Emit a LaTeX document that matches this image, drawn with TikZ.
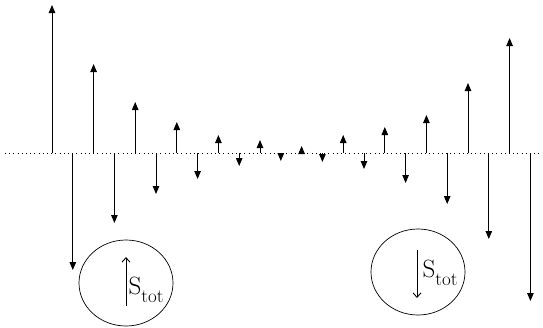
\documentclass[tikz,border=0pt]{standalone}
\usetikzlibrary{arrows.meta,shapes.geometric}
\begin{document}
\begin{tikzpicture}[x=1pt,y=-1pt,
  spin/.style={line width=0.9pt,-{Triangle[length=8pt,width=6.5pt]}},
  baseline dots/.style={line width=0.6pt,dash pattern=on 1pt off 3.2pt},
  tot circle/.style={draw,ellipse,line width=0.7pt,minimum width=94pt,minimum height=86pt,inner sep=0pt},
  tot arrow/.style={line width=0.9pt,-{Straight Barb[length=4.5pt,width=8pt]}},
  tot label/.style={inner sep=0pt,anchor=base west}]
\useasboundingbox (0,0) rectangle (543,327);
\coordinate (dl) at (5,153);
\coordinate (dr) at (543,153);
\draw[baseline dots] (dl) -- (dr);
\foreach \k/\tip in {0/5,1/270,2/64,3/223,4/102,5/194,6/122,7/179,8/135,9/166,10/140,11/161,12/146,13/162,14/135,15/169,16/127,17/183,18/115,19/204,20/83,21/239,22/38,23/301}{
  \pgfmathsetmacro\xx{52+20.8*\k}
  \coordinate (b\k) at (\xx,153);
  \coordinate (t\k) at (\xx,\tip);
  \draw[spin] (b\k) -- (t\k);
}
\node[tot circle] (L) at (126,283) {};
\node[tot circle] (R) at (418,272) {};
\coordinate (La) at (126,306);
\coordinate (Lb) at (126,257);
\coordinate (Ra) at (417,250);
\coordinate (Rb) at (417,298);
\draw[tot arrow] (La) -- (Lb);
\draw[tot arrow] (Ra) -- (Rb);
\node[tot label] (LS) at (128.5,294.7) {\fontsize{25}{25}\selectfont S\raisebox{-8pt}{\fontsize{19}{19}\selectfont tot}};
\node[tot label] (RS) at (422.5,277) {\fontsize{25}{25}\selectfont S\raisebox{-8pt}{\fontsize{19}{19}\selectfont tot}};
\end{tikzpicture}
\end{document}
